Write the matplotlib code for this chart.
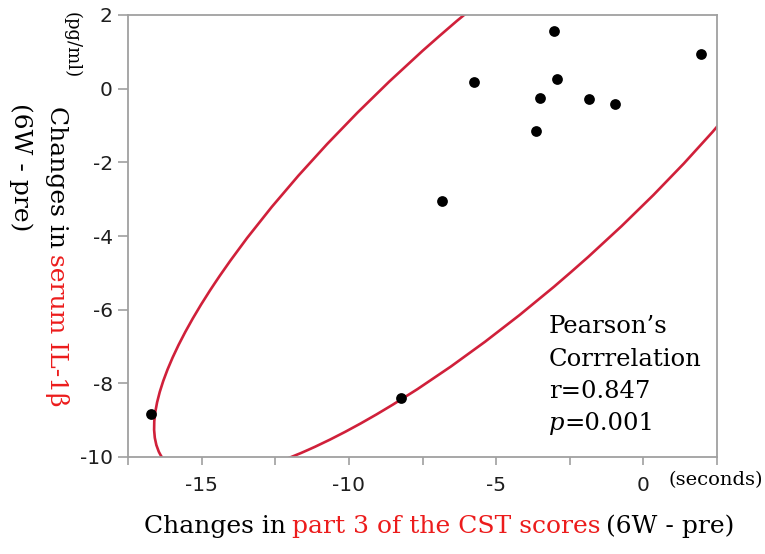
import numpy as np
import matplotlib
matplotlib.use('Agg')
import matplotlib.pyplot as plt
from matplotlib.patches import Ellipse

# ---- data ----
x_vals = [-16.72, -8.23, -6.84, -5.75, -3.66, -3.51, -3.02, -2.93, -1.85, -0.97, 1.97]
y_vals = [-8.83, -8.40, -3.04, 0.19, -1.16, -0.25, 1.57, 0.25, -0.29, -0.42, 0.93]
x_ticks = [-15, -10, -5, 0]
x_minor = [-17.5, -12.5, -7.5, -2.5, 2.5]
y_ticks = [-10, -8, -6, -4, -2, 0, 2]
stats_lines = ["Pearson\u2019s", "Corrrelation", "r=0.847"]
p_text = "=0.001"

plt.rcParams['axes.unicode_minus'] = False

W, H = 765, 554
fig = plt.figure(figsize=(W / 100, H / 100), dpi=100)
ax = fig.add_axes([128 / W, (H - 457) / H, 589 / W, 442 / H])
ax.set_xlim(-17.5, 2.5)
ax.set_ylim(-10, 2)

ax.scatter(x_vals, y_vals, s=60, color='black', zorder=3, linewidths=0)

# 95% bivariate normal density ellipse
xa, ya = np.array(x_vals), np.array(y_vals)
cov = np.cov(xa, ya)
vals, vecs = np.linalg.eigh(cov)
q = 5.991
angle = np.degrees(np.arctan2(vecs[1, 1], vecs[0, 1]))
ell = Ellipse((xa.mean(), ya.mean()), 2 * np.sqrt(q * vals[1]), 2 * np.sqrt(q * vals[0]),
              angle=angle, fill=False, ec='#d0203a', lw=1.9, zorder=2)
ax.add_patch(ell)

grey = '#a0a0a0'
for s in ax.spines.values():
    s.set_color(grey)
    s.set_linewidth(1.3)
ax.set_xticks(x_ticks)
ax.set_xticks(x_minor, minor=True)
ax.set_yticks(y_ticks)
ax.tick_params(axis='x', which='both', length=6, width=1.2, color=grey, pad=8,
               labelsize=14.5, labelcolor='#1e1e1e')
ax.tick_params(axis='y', which='both', length=7, width=1.2, color=grey, pad=4,
               labelsize=14.5, labelcolor='#1e1e1e')
for lab in ax.get_xticklabels() + ax.get_yticklabels():
    lab.set_family('DejaVu Sans')

renderer = fig.canvas.get_renderer()
RED = '#ec1c1c'
SERIF = 'DejaVu Serif'


def seq_h(x0, ybase, parts, size, gap):
    x = x0
    for txt, col, style in parts:
        t = fig.text(x / W, 1 - ybase / H, txt, color=col, fontsize=size, family=SERIF,
                     style=style, ha='left', va='baseline')
        bb = t.get_window_extent(renderer)
        x = bb.x1 + gap


def seq_v(xbase, y0, parts, size, gap):
    y = y0
    for txt, col in parts:
        t = fig.text(xbase / W, 1 - y / H, txt, color=col, fontsize=size, family=SERIF,
                     rotation=-90, rotation_mode='anchor', ha='left', va='baseline')
        bb = t.get_window_extent(renderer)
        y = H - bb.y0 + gap


# x label
seq_h(144, 533, [("Changes in", 'black', 'normal'),
                 ("part 3 of the CST scores", RED, 'normal'),
                 ("(6W - pre)", 'black', 'normal')], 18, 6)
# y label
seq_v(50, 106, [("Changes in", 'black'), ("serum IL-1\u03b2", RED)], 18, 6)
seq_v(14, 103, [("(6W - pre)", 'black')], 18, 0)
seq_v(67, 12, [("(pg/ml)", 'black')], 13, 0)

# units
fig.text(668 / W, 1 - 485 / H, "(seconds)", fontsize=14, family=SERIF, ha='left', va='baseline')

# statistics annotation
for i, line in enumerate(stats_lines):
    fig.text(549 / W, 1 - (333 + 32.5 * i) / H, line, fontsize=17.5, family=SERIF,
             ha='left', va='baseline')
seq_h(549, 430, [("p", 'black', 'italic'), (p_text, 'black', 'normal')], 17.5, 0)

fig.savefig('out.png', dpi=100)
